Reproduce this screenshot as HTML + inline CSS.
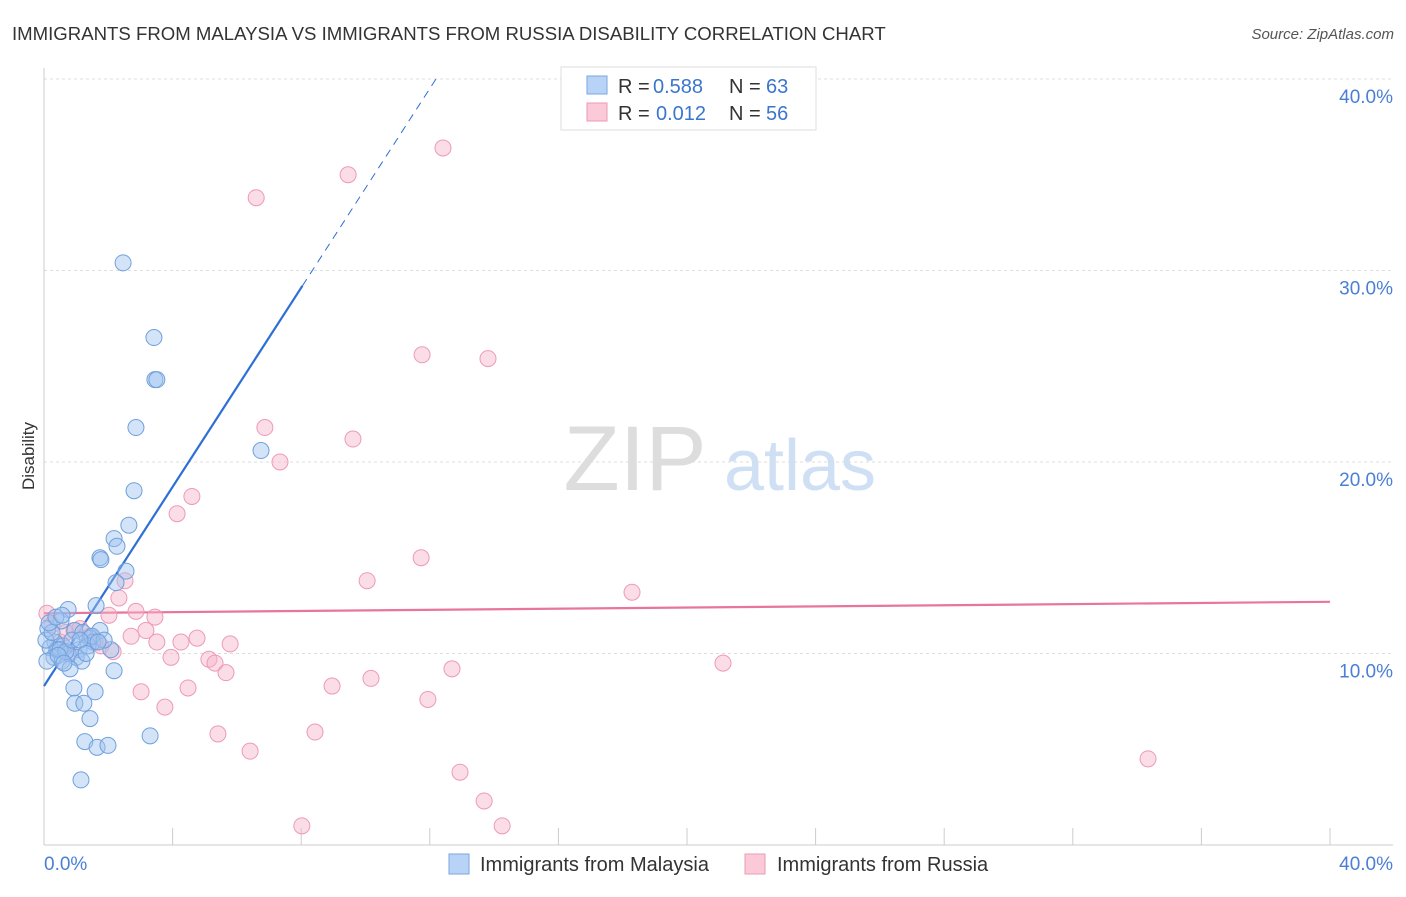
<!DOCTYPE html>
<html><head><meta charset="utf-8"><style>
body{margin:0;background:#fff;font-family:"Liberation Sans",sans-serif;}
svg text{font-family:"Liberation Sans",sans-serif;}
</style></head><body>
<svg id="chart" width="1406" height="892">
<text x="12" y="40" font-size="18.6" fill="#333">IMMIGRANTS FROM MALAYSIA VS IMMIGRANTS FROM RUSSIA DISABILITY CORRELATION CHART</text>
<text x="1394" y="39" font-size="15" fill="#555" text-anchor="end" font-style="italic">Source: ZipAtlas.com</text>
<text x="34" y="456" font-size="17" fill="#333" text-anchor="middle" transform="rotate(-90 34 456)">Disability</text>
<g><text x="635" y="490" font-size="92" fill="#ddd" text-anchor="middle" font-family="Liberation Serif">ZIP</text><text x="800" y="490" font-size="72" fill="#cfe0f5" text-anchor="middle">atlas</text></g>
<g id="grid"></g><g id="axes"></g><g id="lines"></g><g id="pts"></g>
<g>
<rect x="561" y="67" width="255" height="63" fill="#fff" stroke="#ddd"/>
<rect x="587" y="76" width="20" height="18" fill="#b8d3f5" stroke="#7aa7e0"/>
<rect x="587" y="103" width="20" height="18" fill="#fbc9d8" stroke="#ee9ab5"/>
<text y="93" font-size="20" fill="#333"><tspan x="618">R =</tspan><tspan x="653" fill="#3a75d0">0.588</tspan><tspan x="729">N =</tspan><tspan x="766" fill="#3a75d0">63</tspan></text>
<text y="120" font-size="20" fill="#333"><tspan x="618">R =</tspan><tspan x="656" fill="#3a75d0">0.012</tspan><tspan x="729">N =</tspan><tspan x="766" fill="#3a75d0">56</tspan></text>
</g>
<g>
<rect x="449" y="854" width="20" height="20" fill="#b8d3f5" stroke="#7aa7e0"/>
<text x="480" y="871" font-size="20" fill="#333">Immigrants from Malaysia</text>
<rect x="745" y="854" width="20" height="20" fill="#fbc9d8" stroke="#ee9ab5"/>
<text x="777" y="871" font-size="20" fill="#333">Immigrants from Russia</text>
</g>
</svg>
<script>
const yTicks=[10,20,30,40];
const xTickLabels=["0.0%","40.0%"];
const blueX=[2.46,3.42,3.45,3.51,2.86,6.75,2.8,2.64,2.18,2.27,1.74,1.77,2.55,2.24,1.62,0.75,0.53,0.12,0.96,1.21,1.74,1.43,1.52,0.34,0.59,0.19,0.40,1.09,2.08,0.75,1.0,0.31,0.56,1.18,0.81,2.18,0.93,1.59,0.96,1.24,1.43,1.27,1.65,1.99,3.3,1.15,0.06,0.25,0.5,0.68,0.87,1.37,1.49,1.87,0.09,0.44,0.62,1.12,1.31,1.68,0.16,0.37,0.56];
const blueY=[30.4,26.5,24.3,24.3,21.8,20.6,18.5,16.7,16.0,15.6,15.0,14.9,14.3,13.7,12.5,12.3,11.7,11.3,11.2,11.1,11.2,10.8,10.6,10.6,10.4,10.3,10.2,10.2,10.2,10.0,9.8,9.8,9.6,9.6,9.2,9.1,8.2,8.0,7.4,7.4,6.6,5.4,5.1,5.2,5.7,3.4,10.7,11.1,10.2,10.1,10.7,10.4,10.9,10.7,9.6,9.9,9.5,10.7,10.0,10.6,11.6,11.9,12.0];
const pinkX=[12.41,9.46,6.6,11.76,13.81,6.87,9.61,7.34,4.6,4.14,11.73,2.52,10.05,18.29,2.33,2.02,2.86,3.45,3.17,2.71,3.51,4.26,4.76,5.79,0.93,1.43,0.5,1.77,2.15,3.95,5.13,5.32,5.66,12.69,21.12,10.17,3.02,4.48,8.96,11.94,3.76,5.41,8.43,6.41,34.34,12.94,13.69,8.02,14.25,0.09,0.25,0.68,1.12,1.59,0.44,0.81];
const pinkY=[36.4,35.0,33.8,25.6,25.4,21.8,21.2,20.0,18.2,17.3,15.0,13.8,13.8,13.2,12.9,12.0,12.2,11.9,11.2,10.9,10.6,10.6,10.8,10.5,11.2,10.9,10.6,10.4,10.1,9.8,9.7,9.5,9.0,9.2,9.5,8.7,8.0,8.2,8.3,7.6,7.2,5.8,5.9,4.9,4.5,3.8,2.3,1.0,1.0,12.1,11.5,11.1,11.3,10.6,10.2,10.0];
const blueFit={a:8.3,b:2.6};
const pinkFit={a:12.1,b:0.015};
const NS='http://www.w3.org/2000/svg';
const X0=44,X1=1330,YB=845,YT=79;
const sx=v=>X0+(X1-X0)*v/40, sy=v=>YB-(YB-YT)*v/40;
function mk(t,a,p){const e=document.createElementNS(NS,t);for(const k in a)e.setAttribute(k,a[k]);p.appendChild(e);return e;}
const grid=document.getElementById('grid'),axes=document.getElementById('axes'),lines=document.getElementById('lines'),pts=document.getElementById('pts');
yTicks.forEach(t=>{
 const l=mk('line',{x1:X0,x2:1393,y1:sy(t),y2:sy(t),stroke:'#ddd','stroke-dasharray':'3,3'},grid);
 
 
 const tx=mk('text',{x:1393,y:sy(t)+24,'font-size':19,fill:'#4a7fd4','text-anchor':'end'},axes);
 tx.textContent=t.toFixed(1)+'%';
 
 
});
const xa=mk('line',{x1:X0,x2:1393,y1:YB,y2:YB,stroke:'#ccc'},axes);


const ya=mk('line',{x1:X0,x2:X0,y1:68,y2:YB,stroke:'#ccc'},axes);


for(let i=0;i<=10;i++){const tk=mk('line',{x1:sx(i*4),x2:sx(i*4),y1:828,y2:YB,stroke:'#ccc'},axes);
 
 }
[[44,'start'],[1393,'end']].forEach((p,i)=>{const t=mk('text',{x:p[0],y:870,'font-size':19,fill:'#4a7fd4','text-anchor':p[1]},axes);t.textContent=xTickLabels[i];
 
 });
const bxEnd=(29.2-blueFit.a)/blueFit.b, bxTop=(40-blueFit.a)/blueFit.b;
const bl=mk('line',{x1:sx(0),y1:sy(blueFit.a),x2:sx(bxEnd),y2:sy(blueFit.a+blueFit.b*bxEnd),stroke:'#2d6fd4','stroke-width':2.2},lines);


const bd=mk('line',{x1:sx(bxEnd),y1:sy(blueFit.a+blueFit.b*bxEnd),x2:sx(bxTop),y2:sy(40),stroke:'#2d6fd4','stroke-width':1,'stroke-dasharray':'8,6'},lines);


const pl=mk('line',{x1:sx(0),y1:sy(pinkFit.a),x2:sx(40),y2:sy(pinkFit.a+pinkFit.b*40),stroke:'#e8759a','stroke-width':2.2},lines);


pinkX.forEach((x,i)=>{const c=mk('circle',{cx:sx(x),cy:sy(pinkY[i]),r:8,fill:'rgba(246,180,202,0.45)',stroke:'#ee9ab5','stroke-width':1},pts);
 
 });
blueX.forEach((x,i)=>{const c=mk('circle',{cx:sx(x),cy:sy(blueY[i]),r:8,fill:'rgba(160,195,240,0.45)',stroke:'#6fa0dc','stroke-width':1},pts);
 
 });
</script>
</body></html>
